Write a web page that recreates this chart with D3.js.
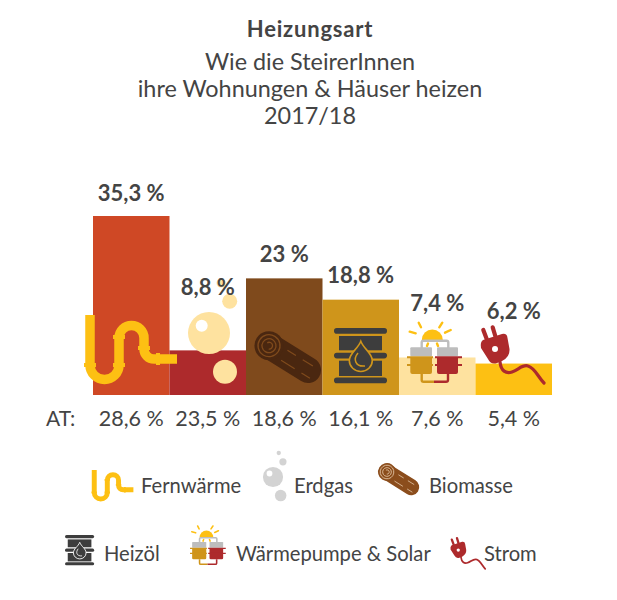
<!DOCTYPE html>
<html>
<head>
<meta charset="utf-8">
<script src="https://cdn.jsdelivr.net/npm/d3@7"></script>
<style>
  html, body { margin: 0; background: #fff; }
  text { font-family: Lato, "Open Sans", sans-serif; fill: #444; }
</style>
</head>
<body>
<svg id="chart" width="617" height="600"></svg>
<script>
// data
var categories = ['Fernwärme', 'Erdgas', 'Biomasse', 'Heizöl', 'Wärmepumpe & Solar', 'Strom'];
var steiermark = [35.3, 8.8, 23, 18.8, 7.4, 6.2];
var oesterreich = [28.6, 23.5, 18.6, 16.1, 7.6, 5.4];
var barColors = ['#cf4825', '#ad2a2c', '#7f4a1c', '#cf951b', '#fee29f', '#fdc013'];
var titleLines = ['Wie die SteirerInnen', 'ihre Wohnungen & Häuser heizen', '2017/18'];

// layout: how far each value label sits above its bar (room for the icons)
var labelLift = [15, 55, 16, 17, 46, 45];

var svg = d3.select('#chart');
var fmt = function (v) { return String(v).replace('.', ',') + ' %'; };

var x = d3.scaleBand().domain(categories).range([93, 552]);
var y = d3.scaleLinear().domain([0, 35.3]).range([395, 216]);

// title
svg.append('text').attr('x', 310).attr('y', 37).attr('text-anchor', 'middle')
  .style('font-size', '22px').style('letter-spacing', '0.8px').style('font-weight', 700).text('Heizungsart');
svg.selectAll('.sub').data(titleLines).enter().append('text')
  .attr('class', 'sub').attr('x', 310).attr('y', function (d, i) { return 70 + i * 27; })
  .attr('text-anchor', 'middle').style('font-size', '23.4px').text(function (d) { return d; });

// bars
svg.selectAll('.bar').data(categories).enter().append('rect')
  .attr('class', 'bar')
  .attr('x', function (d) { return x(d); })
  .attr('width', x.bandwidth())
  .attr('y', function (d, i) { return y(steiermark[i]); })
  .attr('height', function (d, i) { return y(0) - y(steiermark[i]); })
  .attr('fill', function (d, i) { return barColors[i]; });

// icons, drawn at chart size around their own origin
function pipe(g, w) {
  g.append('path')
    .attr('d', 'M5,0V50A14.5,14.5 0 0 0 34,50V23A12.5,12.5 0 0 1 59,23V34A10,10 0 0 0 69,44H92')
    .attr('fill', 'none').attr('stroke', '#fdc013').attr('stroke-width', w);
  // collars on the joints
  g.append('path').attr('d', 'M-1,50H11M28,50H40M28,22H40M53,33H65M73,38V50')
    .attr('fill', 'none').attr('stroke', '#fdc013').attr('stroke-width', 4);
}
function gas(g, color, shine) {
  var bubbles = [[0, 0, 21], [16, 38.7, 12], [20.7, -31.7, 7.5], [12, -50, 4.5]];
  g.selectAll('circle').data(bubbles).enter().append('circle')
    .attr('cx', function (d) { return d[0]; }).attr('cy', function (d) { return d[1]; })
    .attr('r', function (d) { return d[2]; }).attr('fill', color);
  g.append('circle').attr('cx', -7.3).attr('cy', -7.3).attr('r', 6).attr('fill', shine);
}
function log(g, body, lines) {
  var r = g.append('g').attr('transform', 'rotate(32)');
  r.append('path').attr('d', 'M0,0H46').attr('stroke', body).attr('stroke-width', 26)
    .attr('stroke-linecap', 'round');
  r.append('circle').attr('r', 14.5).attr('fill', body);
  [11, 7].forEach(function (rad) {
    r.append('circle').attr('r', rad).attr('fill', 'none').attr('stroke', lines).attr('stroke-width', 1.3);
  });
  r.append('path').attr('d', 'M-3,-1.5A3.4,3.4 0 1 1 1.5,3').attr('fill', 'none').attr('stroke', lines).attr('stroke-width', 1.3);
  r.append('path').attr('d', 'M18,-6H28M36,-6H48M18,6H34M42,6H52')
    .attr('fill', 'none').attr('stroke', lines).attr('stroke-width', 1.2);
}
function barrel(g, dark, drop) {
  [[8, 14.3], [32.7, 15.3]].forEach(function (s) {
    g.append('rect').attr('x', 5).attr('y', s[0]).attr('width', 43).attr('height', s[1]).attr('fill', dark);
  });
  [0, 24.7, 49.5].forEach(function (ry) {
    g.append('rect').attr('x', 0).attr('y', ry).attr('width', 53).attr('height', 5.7).attr('rx', 2.8).attr('fill', dark);
  });
  g.append('path').attr('d', 'M26.8,13.3C24,21 15.3,25 15.3,32.5A11.5,11 0 0 0 38.3,32.5C38.3,25 29.6,21 26.8,13.3Z')
    .attr('fill', dark).attr('stroke', drop).attr('stroke-width', 1.6);
  g.append('path').attr('d', 'M24,25C19,31 21,39 31,38').attr('fill', 'none').attr('stroke', drop).attr('stroke-width', 1.5);
}
function heatPump(g) {
  var sun = '#fdc013', grey = '#bdbdbd', amber = '#cf951b', red = '#ad2a2c';
  // sun with rays
  g.append('path').attr('d', 'M10.8,10A10.5,10.5 0 0 1 31.8,10Z').attr('fill', sun);
  g.append('path').attr('d', 'M-1.3,1.7L4.7,3.3M7.7,-7.3L10,-2.7M31.3,-7.3L28.3,-2.7M39.7,0L34,2.7M17,13.5L16,16M26,13.5L27,16')
    .attr('stroke', sun).attr('stroke-width', 2.4).attr('stroke-linecap', 'round');
  // grey connector and tanks
  g.append('path').attr('d', 'M10.7,18V12.5Q10.7,10.7 12.5,10.7H35.5Q37.3,10.7 37.3,12.5V18').attr('fill', 'none').attr('stroke', grey).attr('stroke-width', 2.4);
  g.append('rect').attr('x', -0.7).attr('y', 17.3).attr('width', 21.7).attr('height', 9).attr('rx', 1).attr('fill', grey);
  g.append('rect').attr('x', 26).attr('y', 17.3).attr('width', 21).attr('height', 9).attr('rx', 1).attr('fill', grey);
  // coloured lower halves
  g.append('path').attr('d', 'M-0.7,28H21V42Q21,44 19,44H1.3Q-0.7,44 -0.7,42Z').attr('fill', amber);
  g.append('path').attr('d', 'M26,28H47V42Q47,44 45,44H28Q26,44 26,42Z').attr('fill', red);
  g.append('path').attr('d', 'M-4,27.3H22M-4,35H22').attr('stroke', amber).attr('stroke-width', 2);
  g.append('path').attr('d', 'M24,27.3H51M24,35H51').attr('stroke', red).attr('stroke-width', 2);
  // refrigerant line underneath
  g.append('path').attr('d', 'M10.7,44V50Q10.7,51.7 12.5,51.7H23').attr('fill', 'none').attr('stroke', amber).attr('stroke-width', 2.4);
  g.append('path').attr('d', 'M23,51.7H35Q37,51.7 37,50V44').attr('fill', 'none').attr('stroke', red).attr('stroke-width', 2.4);
}
function plug(g, color, hole) {
  g.append('path').attr('d', 'M3.3,3L6.7,12M12.7,0.3L15.3,9').attr('stroke', color).attr('stroke-width', 4.2).attr('stroke-linecap', 'round');
  g.append('path').attr('d', 'M3,13L22,7Q27,6 27.5,11L29.5,22Q30,30 22,34L17,36Q11,38 8,32L1,21Q0,15 3,13Z').attr('fill', color);
  g.append('circle').attr('cx', 15).attr('cy', 22).attr('r', 3).attr('fill', hole);
  g.append('path').attr('d', 'M20,35C21,44 26,47 32,45C38,43 43,37 48,39C55,41 58,50 64,56')
    .attr('fill', 'none').attr('stroke', color).attr('stroke-width', 3.2).attr('stroke-linecap', 'round');
}

function place(px, py, s) {
  return svg.append('g').attr('transform', 'translate(' + px + ',' + py + ') scale(' + s + ')');
}

// icons in the bars
pipe(place(85, 315, 1), 9.5);
gas(place(209, 333, 1), '#fee29f', '#fff');
log(place(269, 345.7, 1), '#4a2710', '#7f4a1c');
barrel(place(334, 328, 1), '#3d3d3d', '#cf951b');
heatPump(place(411, 330, 1));
plug(place(480, 327, 1), '#ad2a2c', '#fff');

// value labels
svg.selectAll('.val').data(categories).enter().append('text')
  .attr('class', 'val')
  .attr('x', function (d) { return x(d) + x.bandwidth() / 2; })
  .attr('y', function (d, i) { return y(steiermark[i]) - labelLift[i]; })
  .attr('text-anchor', 'middle')
  .style('font-size', '22px').style('font-weight', 700)
  .text(function (d, i) { return fmt(steiermark[i]); });

// Austria row
var atAxis = d3.axisBottom(x).tickSize(0).tickPadding(0)
  .tickFormat(function (d) { return fmt(oesterreich[categories.indexOf(d)]); });
var atRow = svg.append('g').attr('transform', 'translate(0,411)').call(atAxis);
atRow.select('.domain').remove();
atRow.selectAll('text').style('font-size', '21.5px').style('font-family', 'Lato, sans-serif').attr('fill', '#444');
svg.append('text').attr('x', 46).attr('y', 426).style('font-size', '21px').text('AT:');

// legend
var legendLabels = [
  { name: 'Fernwärme', x: 141, y: 493 },
  { name: 'Erdgas', x: 294, y: 493 },
  { name: 'Biomasse', x: 429, y: 493 },
  { name: 'Heizöl', x: 104, y: 561 },
  { name: 'Wärmepumpe & Solar', x: 236, y: 561 },
  { name: 'Strom', x: 484, y: 561 }
];
svg.selectAll('.leg').data(legendLabels).enter().append('text')
  .attr('class', 'leg').attr('x', function (d) { return d.x; }).attr('y', function (d) { return d.y; })
  .style('font-size', '20.2px').text(function (d) { return d.name; });

pipe(place(92, 470, 0.45), 11);
gas(place(273, 477, 0.48), '#d3d3d3', '#fff');
log(place(387, 472, 0.62), '#8b4d1c', '#e2c4a4');
barrel(place(65, 535, 0.55), '#3d3d3d', '#fff');
heatPump(place(192.6, 530.7, 0.65));
plug(place(450, 538, 0.55), '#ad2a2c', '#fff');
</script>
</body>
</html>
